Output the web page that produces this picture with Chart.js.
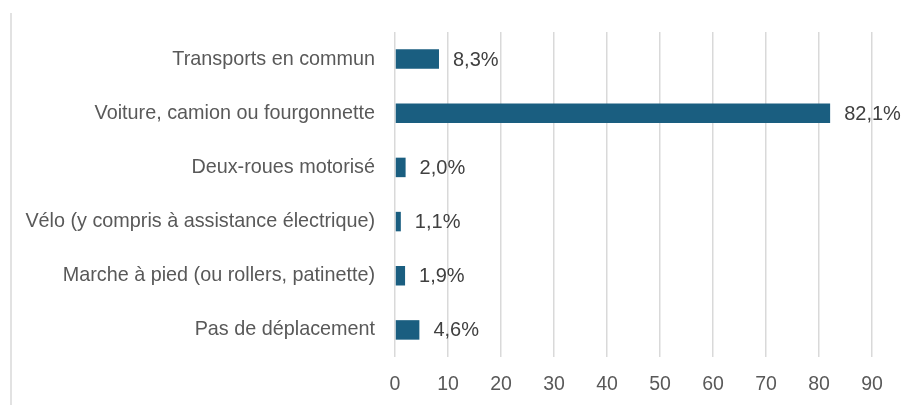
<!DOCTYPE html>
<html lang="fr">
<head>
<meta charset="utf-8">
<script src="https://cdn.jsdelivr.net/npm/chart.js@4/dist/chart.umd.min.js"></script>
<style>
    html, body { margin: 0; padding: 0; background: #ffffff; }
    #wrap { width: 917px; height: 405px; position: relative; }
</style>
</head>
<body>
<div id="wrap"><canvas id="modesChart" width="917" height="405"></canvas></div>
<script>
// Data
const categories = [
    'Transports en commun',
    'Voiture, camion ou fourgonnette',
    'Deux-roues motorisé',
    'Vélo (y compris à assistance électrique)',
    'Marche à pied (ou rollers, patinette)',
    'Pas de déplacement'
];
const shares = [8.3, 82.1, 2.0, 1.1, 1.9, 4.6];
const xTicks = [0, 10, 20, 30, 40, 50, 60, 70, 80, 90];

const FONT = '"Liberation Sans", Arial, sans-serif';

// Draws "8,3%" style labels at the end of each bar
const valueLabels = {
    id: 'valueLabels',
    afterDatasetsDraw(chart) {
        const ctx = chart.ctx;
        const meta = chart.getDatasetMeta(0);
        ctx.save();
        ctx.font = '20px ' + FONT;
        ctx.fillStyle = '#404040';
        ctx.textAlign = 'left';
        ctx.textBaseline = 'middle';
        meta.data.forEach((bar, i) => {
            const txt = shares[i].toFixed(1).replace('.', ',') + '%';
            ctx.fillText(txt, bar.x + 14, bar.y + 1);
        });
        ctx.restore();
    }
};

// Left frame line of the original chart box
const frameLine = {
    id: 'frameLine',
    beforeDraw(chart) {
        const ctx = chart.ctx;
        ctx.save();
        ctx.strokeStyle = '#d9d9d9';
        ctx.lineWidth = 1.5;
        ctx.beginPath();
        ctx.moveTo(11, 13);
        ctx.lineTo(11, 405);
        ctx.stroke();
        ctx.restore();
    }
};

new Chart(document.getElementById('modesChart'), {
    type: 'bar',
    data: {
        labels: categories,
        datasets: [{
            data: shares,
            backgroundColor: '#1a5e80',
            borderWidth: 0,
            barPercentage: 0.36,
            categoryPercentage: 1
        }]
    },
    options: {
        indexAxis: 'y',
        responsive: false,
        animation: false,
        layout: { padding: { top: 32, right: 45, bottom: 0, left: 0 } },
        plugins: {
            legend: { display: false },
            tooltip: { enabled: false }
        },
        scales: {
            x: {
                min: 0,
                max: 90,
                afterBuildTicks: function(scale) {
                    scale.ticks = xTicks.map(v => ({ value: v }));
                },
                afterFit: function(scale) { scale.height = 48; },
                grid: { color: '#d9d9d9', lineWidth: 1.5, drawTicks: false },
                border: { display: false },
                ticks: {
                    padding: 16,
                    color: '#595959',
                    font: { family: FONT, size: 19.5 }
                }
            },
            y: {
                afterFit: function(scale) { scale.width = 395; },
                grid: { display: false, drawTicks: false },
                border: { display: false },
                ticks: {
                    padding: 20,
                    color: '#595959',
                    font: { family: FONT, size: 19.8 }
                }
            }
        }
    },
    plugins: [frameLine, valueLabels]
});
</script>
</body>
</html>
